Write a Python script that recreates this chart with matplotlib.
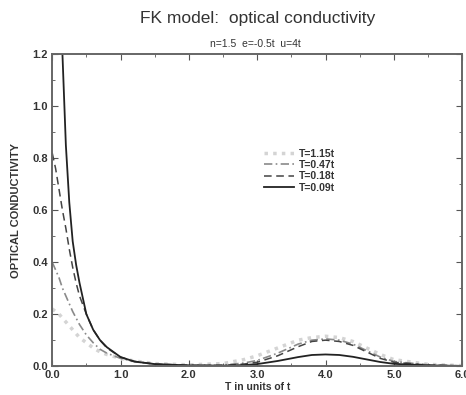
import matplotlib
matplotlib.use("Agg")
import matplotlib.pyplot as plt
from matplotlib.ticker import MultipleLocator, FormatStrFormatter

plt.rcParams['font.family'] = ['Liberation Sans', 'DejaVu Sans']

# frequency grid (units of t) and conductivity
w = [0.0, 0.05, 0.1, 0.15, 0.2, 0.25, 0.3, 0.35, 0.4, 0.5, 0.6, 0.7, 0.8, 1.0,
     1.2, 1.5, 2.0, 2.5, 2.8, 3.0, 3.3, 3.6, 3.8, 4.0, 4.2, 4.4, 4.6, 4.8,
     5.0, 5.5, 6.0]

s_115 = [0.22, 0.21, 0.20, 0.185, 0.17, 0.155, 0.14, 0.125, 0.11, 0.09, 0.07,
         0.055, 0.045, 0.03, 0.02, 0.01, 0.005, 0.01, 0.025, 0.04, 0.07, 0.10,
         0.11, 0.115, 0.11, 0.095, 0.07, 0.045, 0.025, 0.007, 0.002]
s_047 = [0.40, 0.37, 0.34, 0.30, 0.27, 0.24, 0.21, 0.185, 0.16, 0.12, 0.09,
         0.065, 0.05, 0.03, 0.018, 0.008, 0.003, 0.004, 0.012, 0.022, 0.05,
         0.085, 0.10, 0.105, 0.10, 0.085, 0.06, 0.035, 0.018, 0.005, 0.001]
s_018 = [0.82, 0.76, 0.68, 0.60, 0.53, 0.45, 0.38, 0.32, 0.27, 0.20, 0.14,
         0.10, 0.07, 0.035, 0.018, 0.008, 0.003, 0.003, 0.008, 0.015, 0.04,
         0.075, 0.095, 0.10, 0.095, 0.08, 0.055, 0.03, 0.015, 0.004, 0.001]
s_009 = [3.0, 2.4, 1.8, 1.2, 0.85, 0.63, 0.48, 0.39, 0.32, 0.20, 0.14,
         0.10, 0.073, 0.035, 0.018, 0.008, 0.003, 0.002, 0.004, 0.008, 0.02,
         0.035, 0.043, 0.045, 0.043, 0.036, 0.026, 0.016, 0.009, 0.003, 0.001]

fig = plt.figure(figsize=(4.66, 3.95), dpi=100)
ax = fig.add_axes([0.112, 0.073, 0.88, 0.79])

ax.plot(w, s_115, color='#d4d4d4', lw=2.5, ls=(0, (1, 1.5)), label='T=1.15t')
ax.plot(w, s_047, color='#8a8a8a', lw=1.2, ls=(0, (5, 2, 1, 2)), label='T=0.47t')
ax.plot(w, s_018, color='#444444', lw=1.1, ls=(0, (5, 3)), label='T=0.18t')
ax.plot(w, s_009, color='#222222', lw=1.3, ls='-', label='T=0.09t')

ax.set_xlim(0, 6)
ax.set_ylim(0, 1.2)
ax.xaxis.set_major_locator(MultipleLocator(1.0))
ax.xaxis.set_minor_locator(MultipleLocator(0.5))
ax.yaxis.set_major_locator(MultipleLocator(0.2))
ax.yaxis.set_minor_locator(MultipleLocator(0.1))
ax.xaxis.set_major_formatter(FormatStrFormatter('%.1f'))
ax.yaxis.set_major_formatter(FormatStrFormatter('%.1f'))
ax.tick_params(which='both', direction='in', top=True, right=True,
               color='#555555', labelsize=8, pad=3)
ax.tick_params(which='major', length=4)
ax.tick_params(which='minor', length=2)
for lab in ax.get_xticklabels() + ax.get_yticklabels():
    lab.set_fontweight('bold')
    lab.set_color('#333333')
for sp in ax.spines.values():
    sp.set_color('#666666')
    sp.set_linewidth(1.4)

ax.set_xlabel('T in units of t', fontsize=7.5, fontweight='bold', color='#333333', labelpad=1)
ax.set_ylabel('OPTICAL CONDUCTIVITY', fontsize=8, fontweight='bold', color='#333333', labelpad=8)

fig.text(0.553, 0.952, 'FK model:  optical conductivity', ha='center', va='center',
         fontsize=12.5, color='#333333')
fig.text(0.547, 0.888, 'n=1.5  e=-0.5t  u=4t', ha='center', va='center',
         fontsize=7.5, color='#333333')

leg = ax.legend(loc='upper left', bbox_to_anchor=(0.505, 0.713), frameon=False,
                fontsize=7.5, handlelength=2.8, handletextpad=0.5,
                labelspacing=0.12, borderpad=0)
for t in leg.get_texts():
    t.set_fontweight('bold')
    t.set_color('#333333')

fig.savefig('out.png', dpi=100)
